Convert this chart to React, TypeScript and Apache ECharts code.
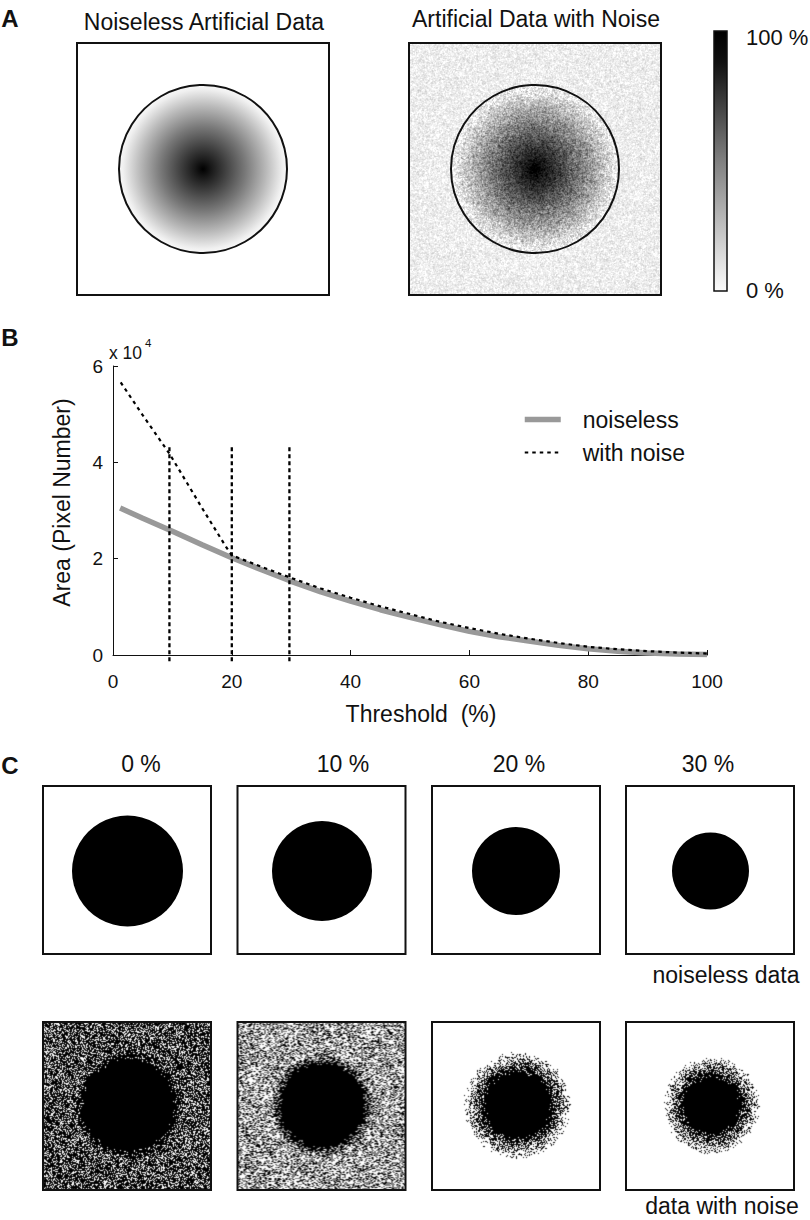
import React, { useEffect, useRef } from "react";
import * as echarts from "echarts";

// ---- Panel B data ----
const curveThresholds = [1.2, 5, 10, 15, 20, 25, 30, 35, 40, 45, 50, 55, 60, 65, 70, 75, 80, 85, 90, 95, 100];
const noiselessArea = [3.05, 2.84, 2.57, 2.29, 2.02, 1.77, 1.53, 1.31, 1.12, 0.94, 0.78, 0.63, 0.49, 0.38, 0.29, 0.2, 0.13, 0.08, 0.04, 0.02, 0.01];
const noiseThresholds = [1.3, 5, 9.5, 15, 19, 20, 25, 30, 35, 40, 45, 50, 55, 60, 65, 70, 75, 80, 85, 90, 95, 100];
const noiseArea = [5.66, 4.98, 4.18, 3.05, 2.25, 2.07, 1.83, 1.6, 1.38, 1.19, 1.01, 0.85, 0.69, 0.56, 0.44, 0.34, 0.25, 0.17, 0.12, 0.08, 0.05, 0.03];
const markedThresholds = [9.5, 20, 29.7];
const markerTop = 4.33;
const markerBottom = -0.13;

const xTicks = { min: 0, max: 100, step: 20 };
const yTicks = { min: 0, max: 6, step: 2 };

// ---- Panel C labels and estimated disc sizes (pixels in the picture) ----
const thresholdLabels = ["0 %", "10 %", "20 %", "30 %"];
const noiselessDiscRadius = [55.5, 50, 44, 38.5];
const noisySolidRadius = [44, 40, 31, 26];
const noisyFringeRadius = [54, 52, 54, 49];
const noisyBackground = [0.68, 0.38, 0, 0];

// ---- Panel A grey profile: fraction of radius -> grey level ----
const profileStops = [0, 0.1, 0.25, 0.5, 0.75, 0.95, 1];
const profileGrey = [0, 25, 60, 120, 185, 240, 248];

const SANS = "Liberation Sans, Arial, sans-serif";

const grey = (v: number) => `rgb(${v},${v},${v})`;
const profileAt = (t: number) => {
  if (t >= 1) return profileGrey[profileGrey.length - 1];
  for (let i = 1; i < profileStops.length; i++) {
    if (t <= profileStops[i]) {
      const f = (t - profileStops[i - 1]) / (profileStops[i] - profileStops[i - 1]);
      return profileGrey[i - 1] + f * (profileGrey[i] - profileGrey[i - 1]);
    }
  }
  return 255;
};

// The speckle in the noisy pictures cannot be read pixel by pixel: it is a texture
// made by a fixed generator that only imitates the look. It carries no chart value.
let seed = 20240611;
const speckle = () => {
  seed = (Math.imul(seed, 1664525) + 1013904223) >>> 0;
  return (seed >>> 8) / 16777216;
};

function texture(w: number, h: number, pixel: (x: number, y: number) => number) {
  let buf = new Float32Array(w * h);
  for (let y = 0; y < h; y++) for (let x = 0; x < w; x++) buf[y * w + x] = pixel(x, y);
  // soft 1-5-1 smear along both axes, like the scan's softening
  const smear = (src: Float32Array, dx: number, dy: number) => {
    const out = new Float32Array(w * h);
    for (let y = 0; y < h; y++) {
      for (let x = 0; x < w; x++) {
        const ax = Math.max(0, x - dx), ay = Math.max(0, y - dy);
        const bx = Math.min(w - 1, x + dx), by = Math.min(h - 1, y + dy);
        out[y * w + x] = (src[ay * w + ax] + 5 * src[y * w + x] + src[by * w + bx]) / 7;
      }
    }
    return out;
  };
  buf = smear(smear(buf, 1, 0), 0, 1);
  const canvas = document.createElement("canvas");
  canvas.width = w;
  canvas.height = h;
  const ctx = canvas.getContext("2d")!;
  const img = ctx.createImageData(w, h);
  for (let p = 0; p < w * h; p++) {
    const v = Math.max(0, Math.min(255, buf[p]));
    img.data[p * 4] = img.data[p * 4 + 1] = img.data[p * 4 + 2] = v;
    img.data[p * 4 + 3] = 255;
  }
  ctx.putImageData(img, 0, 0);
  return canvas.toDataURL("image/png");
}

function noisyGradient(size: number, cx: number, cy: number, R: number) {
  return texture(size, size, (x, y) => {
    const t = Math.hypot(x - cx, y - cy) / R;
    const n = speckle() + speckle() + speckle() - 1.5;
    if (t >= 1) return 237 + n * 36;
    return Math.min(profileAt(t) - 6, 237) + n * 70 * (0.3 + 0.7 * Math.min(1, t * 2));
  });
}

function thresholded(w: number, h: number, cx: number, cy: number, solid: number, fringe: number, bg: number) {
  return texture(w, h, (x, y) => {
    const r = Math.hypot(x - cx, y - cy);
    let p = bg;
    if (r <= solid) p = 1;
    else if (r < fringe) {
      const f = (r - solid) / (fringe - solid);
      p = bg + (1 - bg) * Math.pow(1 - f, 0.9);
    }
    return speckle() < p ? 0 : 255;
  });
}

// ---- Layout ----
const topPanels = [
  { x: 77, y: 43, s: 252 },
  { x: 409, y: 43, s: 252 },
];
const circleCentres = [
  { x: 203, y: 169 },
  { x: 535, y: 169 },
];
const circleR = 84;
const cPanelX = [43, 237.5, 432, 626];
const cPanelW = 168;
const cTopY = 786;
const cBottomY = 1022;
const cCentreX = [127.5, 322, 516, 710.5];
const cTopCy = 871;
const cBotCentreX = [128, 322, 517, 711];
const cBotCy = 1105;
const cLabelX = [141, 343, 519, 708];

const txt = (text: string, x: number, y: number, size: number, align = "center", weight = "normal") => ({
  type: "text",
  silent: true,
  z: 10,
  style: { text, x, y, fill: "#111", font: `${weight} ${size}px ${SANS}`, textAlign: align, textVerticalAlign: "middle" },
});

const box = (x: number, y: number, w: number, h: number, lw = 2) => ({
  type: "rect",
  silent: true,
  z: 8,
  shape: { x, y, width: w, height: h },
  style: { fill: "none", stroke: "#111", lineWidth: lw },
});

function buildGraphics() {
  const g: any[] = [];
  g.push(txt("A", 10, 18, 24, "center", "bold"));
  g.push(txt("B", 10, 337, 24, "center", "bold"));
  g.push(txt("C", 10, 765, 24, "center", "bold"));
  g.push(txt("Noiseless Artificial Data", 204, 22, 23));
  g.push(txt("Artificial Data with Noise", 536, 19, 23));
  g.push(txt("100 %", 746, 37, 22, "left"));
  g.push(txt("0 %", 746, 290, 22, "left"));

  const gradient = new echarts.graphic.RadialGradient(
    0.5,
    0.5,
    0.5,
    profileStops.map((offset, i) => ({ offset, color: grey(profileGrey[i]) }))
  );
  g.push({
    type: "image",
    silent: true,
    z: 2,
    style: {
      image: noisyGradient(topPanels[1].s, circleCentres[1].x - topPanels[1].x, circleCentres[1].y - topPanels[1].y, circleR),
      x: topPanels[1].x,
      y: topPanels[1].y,
      width: topPanels[1].s,
      height: topPanels[1].s,
    },
  });
  g.push({
    type: "circle",
    silent: true,
    z: 3,
    shape: { cx: circleCentres[0].x, cy: circleCentres[0].y, r: circleR },
    style: { fill: gradient, stroke: "#111", lineWidth: 2 },
  });
  g.push({
    type: "circle",
    silent: true,
    z: 3,
    shape: { cx: circleCentres[1].x, cy: circleCentres[1].y, r: circleR },
    style: { fill: "none", stroke: "#111", lineWidth: 2 },
  });
  topPanels.forEach((p) => g.push(box(p.x, p.y, p.s, p.s)));

  g.push({
    type: "rect",
    silent: true,
    z: 3,
    shape: { x: 714, y: 31, width: 13, height: 260 },
    style: {
      fill: new echarts.graphic.LinearGradient(0, 0, 0, 1, [
        { offset: 0, color: "#000" },
        { offset: 0.12, color: "#111" },
        { offset: 0.5, color: "#808080" },
        { offset: 0.85, color: "#d8d8d8" },
        { offset: 1, color: "#fbfbfb" },
      ]),
      stroke: "#111",
      lineWidth: 1.5,
    },
  });

  g.push(txt("x 10", 109, 353, 17.5, "left"));
  g.push(txt("4", 145, 343, 11.5, "left"));

  thresholdLabels.forEach((label, i) => {
    g.push(txt(label, cLabelX[i], 764, 23));
    g.push({
      type: "circle",
      silent: true,
      z: 3,
      shape: { cx: cCentreX[i], cy: cTopCy, r: noiselessDiscRadius[i] },
      style: { fill: "#000" },
    });
    g.push(box(cPanelX[i], cTopY, cPanelW, cPanelW));
    g.push({
      type: "image",
      silent: true,
      z: 3,
      style: {
        image: thresholded(
          cPanelW,
          cPanelW,
          cBotCentreX[i] - cPanelX[i],
          cBotCy - cBottomY,
          noisySolidRadius[i],
          noisyFringeRadius[i],
          noisyBackground[i]
        ),
        x: cPanelX[i],
        y: cBottomY,
        width: cPanelW,
        height: cPanelW,
      },
    });
    g.push(box(cPanelX[i], cBottomY, cPanelW, cPanelW));
  });
  g.push(txt("noiseless data", 726, 975, 23));
  g.push(txt("data with noise", 722, 1206, 23));
  return g;
}

function buildOption() {
  const markerSeries = markedThresholds.map((t) => ({
    type: "line",
    name: `marker ${t}`,
    data: [
      [t, markerBottom],
      [t, markerTop],
    ],
    symbol: "none",
    clip: false,
    z: 5,
    lineStyle: { color: "#000", width: 2.3, type: [4, 3] },
  }));
  return {
    animation: false,
    backgroundColor: "#fff",
    textStyle: { fontFamily: SANS },
    grid: { left: 113, right: 103, top: 366, bottom: 565, containLabel: false },
    legend: {
      data: ["noiseless", "with noise"],
      orient: "vertical",
      left: 517,
      top: 403,
      itemWidth: 36,
      itemHeight: 22,
      itemGap: 10,
      selectedMode: false,
      itemStyle: { color: "transparent", borderColor: "transparent", borderWidth: 0, opacity: 0 },
      lineStyle: { width: "inherit" },
      textStyle: { fontSize: 23, color: "#111", fontFamily: SANS, padding: [0, 0, 0, 17] },
    },
    xAxis: {
      type: "value",
      min: xTicks.min,
      max: xTicks.max,
      interval: xTicks.step,
      name: "Threshold  (%)",
      nameLocation: "middle",
      nameGap: 47,
      nameTextStyle: { fontSize: 23, color: "#111", fontFamily: SANS, padding: [0, 0, 0, 22] },
      axisLine: { onZero: false, lineStyle: { color: "#111", width: 1 } },
      axisTick: { inside: true, length: 5, lineStyle: { color: "#111", width: 1 } },
      axisLabel: { fontSize: 19, color: "#111", margin: 17, fontFamily: SANS },
      splitLine: { show: false },
    },
    yAxis: {
      type: "value",
      min: yTicks.min,
      max: yTicks.max,
      interval: yTicks.step,
      name: "Area (Pixel Number)",
      nameLocation: "middle",
      nameGap: 40,
      nameTextStyle: { fontSize: 23, color: "#111", fontFamily: SANS, padding: [0, 0, 0, 16] },
      axisLine: { show: true, lineStyle: { color: "#111", width: 1 } },
      axisTick: { show: true, inside: true, length: 5, lineStyle: { color: "#111", width: 1 } },
      axisLabel: { fontSize: 19, color: "#111", margin: 10, fontFamily: SANS },
      splitLine: { show: false },
    },
    series: [
      {
        type: "line",
        name: "noiseless",
        data: curveThresholds.map((x, i) => [x, noiselessArea[i]]),
        symbol: "none",
        z: 3,
        itemStyle: { color: "#999" },
        lineStyle: { color: "#999", width: 5.5 },
      },
      {
        type: "line",
        name: "with noise",
        data: noiseThresholds.map((x, i) => [x, noiseArea[i]]),
        symbol: "none",
        z: 4,
        itemStyle: { color: "#000" },
        lineStyle: { color: "#000", width: 2.2, type: [3.5, 4] },
      },
      ...markerSeries,
    ],
    graphic: { elements: buildGraphics() },
  };
}

export default function App() {
  const ref = useRef<HTMLDivElement>(null);
  useEffect(() => {
    const chart = echarts.init(ref.current!, undefined, { renderer: "svg" });
    chart.setOption(buildOption() as any);
    return () => chart.dispose();
  }, []);
  return <div ref={ref} style={{ position: "absolute", left: 0, top: 0, width: 810, height: 1220 }} />;
}
